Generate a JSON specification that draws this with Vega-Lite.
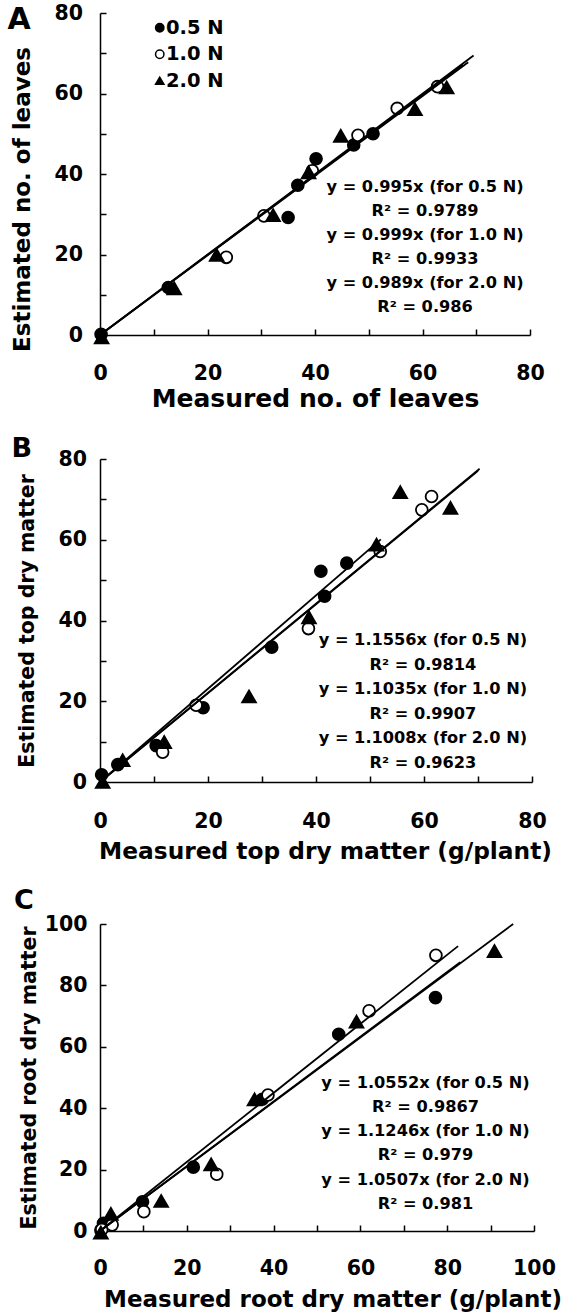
{
  "$schema": "https://vega.github.io/schema/vega-lite/v6.json",
  "padding": {"left": 7, "top": 3, "right": 5, "bottom": 5},
  "background": "white",
  "spacing": 23,
  "datasets": {
    "ptsA": [
      {"N": "0.5 N", "measured": 0.2, "estimated": 0.2},
      {"N": "0.5 N", "measured": 12.7, "estimated": 11.8},
      {"N": "0.5 N", "measured": 35.0, "estimated": 29.2},
      {"N": "0.5 N", "measured": 36.8, "estimated": 37.2},
      {"N": "0.5 N", "measured": 40.2, "estimated": 43.8},
      {"N": "0.5 N", "measured": 47.2, "estimated": 47.2},
      {"N": "0.5 N", "measured": 50.8, "estimated": 50.0},
      {"N": "1.0 N", "measured": 23.5, "estimated": 19.3},
      {"N": "1.0 N", "measured": 30.5, "estimated": 29.6},
      {"N": "1.0 N", "measured": 39.5, "estimated": 40.8},
      {"N": "1.0 N", "measured": 48.0, "estimated": 49.6},
      {"N": "1.0 N", "measured": 55.3, "estimated": 56.3},
      {"N": "1.0 N", "measured": 62.8, "estimated": 61.7},
      {"N": "2.0 N", "measured": 0.3, "estimated": -0.6},
      {"N": "2.0 N", "measured": 13.8, "estimated": 11.6},
      {"N": "2.0 N", "measured": 21.7, "estimated": 19.9},
      {"N": "2.0 N", "measured": 32.2, "estimated": 29.8},
      {"N": "2.0 N", "measured": 38.8, "estimated": 40.4},
      {"N": "2.0 N", "measured": 44.8, "estimated": 49.5},
      {"N": "2.0 N", "measured": 58.6, "estimated": 56.1},
      {"N": "2.0 N", "measured": 64.5, "estimated": 61.5}
    ],
    "linesA": [
      {"N": "0.5 N", "measured": 0, "estimated": 0},
      {"N": "0.5 N", "measured": 67.5, "estimated": 67.16},
      {"N": "1.0 N", "measured": 0, "estimated": 0},
      {"N": "1.0 N", "measured": 69.5, "estimated": 69.43},
      {"N": "2.0 N", "measured": 0, "estimated": 0},
      {"N": "2.0 N", "measured": 68.5, "estimated": 67.75}
    ],
    "ptsB": [
      {"N": "0.5 N", "measured": 0.3, "estimated": 1.8},
      {"N": "0.5 N", "measured": 3.3, "estimated": 4.3},
      {"N": "0.5 N", "measured": 10.4, "estimated": 9.0},
      {"N": "0.5 N", "measured": 19.1, "estimated": 18.4},
      {"N": "0.5 N", "measured": 31.8, "estimated": 33.4},
      {"N": "0.5 N", "measured": 40.9, "estimated": 52.2},
      {"N": "0.5 N", "measured": 41.6, "estimated": 46.0},
      {"N": "0.5 N", "measured": 45.7, "estimated": 54.2},
      {"N": "1.0 N", "measured": 11.6, "estimated": 7.4},
      {"N": "1.0 N", "measured": 17.8, "estimated": 19.0},
      {"N": "1.0 N", "measured": 38.6, "estimated": 38.0},
      {"N": "1.0 N", "measured": 51.9, "estimated": 57.1},
      {"N": "1.0 N", "measured": 59.6, "estimated": 67.4},
      {"N": "1.0 N", "measured": 61.4, "estimated": 70.7},
      {"N": "2.0 N", "measured": 0.5, "estimated": 0.0},
      {"N": "2.0 N", "measured": 4.2, "estimated": 5.4},
      {"N": "2.0 N", "measured": 11.9, "estimated": 9.9},
      {"N": "2.0 N", "measured": 27.6, "estimated": 21.2},
      {"N": "2.0 N", "measured": 38.7, "estimated": 40.8},
      {"N": "2.0 N", "measured": 51.2, "estimated": 58.8},
      {"N": "2.0 N", "measured": 55.6, "estimated": 71.8},
      {"N": "2.0 N", "measured": 64.9, "estimated": 67.9}
    ],
    "linesB": [
      {"N": "0.5 N", "measured": 0, "estimated": 0},
      {"N": "0.5 N", "measured": 52, "estimated": 60.09},
      {"N": "1.0 N", "measured": 0, "estimated": 0},
      {"N": "1.0 N", "measured": 70.3, "estimated": 77.58},
      {"N": "2.0 N", "measured": 0, "estimated": 0},
      {"N": "2.0 N", "measured": 70, "estimated": 77.06}
    ],
    "ptsC": [
      {"N": "0.5 N", "measured": 0.2, "estimated": 0.3},
      {"N": "0.5 N", "measured": 0.8, "estimated": 2.5},
      {"N": "0.5 N", "measured": 9.8, "estimated": 9.5},
      {"N": "0.5 N", "measured": 21.5, "estimated": 20.8},
      {"N": "0.5 N", "measured": 37.4, "estimated": 42.9},
      {"N": "0.5 N", "measured": 55.0, "estimated": 64.1},
      {"N": "0.5 N", "measured": 77.3, "estimated": 76.0},
      {"N": "1.0 N", "measured": 0.4, "estimated": 0.5},
      {"N": "1.0 N", "measured": 2.8, "estimated": 2.0},
      {"N": "1.0 N", "measured": 10.1, "estimated": 6.3},
      {"N": "1.0 N", "measured": 26.9, "estimated": 18.5},
      {"N": "1.0 N", "measured": 38.7, "estimated": 44.3},
      {"N": "1.0 N", "measured": 62.0, "estimated": 71.7},
      {"N": "1.0 N", "measured": 77.4, "estimated": 89.8},
      {"N": "2.0 N", "measured": 0.2, "estimated": -0.5},
      {"N": "2.0 N", "measured": 2.5, "estimated": 5.6},
      {"N": "2.0 N", "measured": 14.1, "estimated": 9.8},
      {"N": "2.0 N", "measured": 25.6, "estimated": 21.7},
      {"N": "2.0 N", "measured": 35.6, "estimated": 42.9},
      {"N": "2.0 N", "measured": 59.1, "estimated": 68.2},
      {"N": "2.0 N", "measured": 90.9, "estimated": 91.2}
    ],
    "linesC": [
      {"N": "0.5 N", "measured": 0, "estimated": 0},
      {"N": "0.5 N", "measured": 83, "estimated": 87.58},
      {"N": "1.0 N", "measured": 0, "estimated": 0},
      {"N": "1.0 N", "measured": 82.5, "estimated": 92.78},
      {"N": "2.0 N", "measured": 0, "estimated": 0},
      {"N": "2.0 N", "measured": 95.2, "estimated": 100.03}
    ]
  },
  "vconcat": [
    {
      "width": 430,
      "height": 322,
      "layer": [
        {
          "data": {"name": "ptsA"},
          "transform": [{"filter": "datum.N !== '2.0 N'"}],
          "mark": {"type": "point", "filled": true, "opacity": 1, "stroke": "black", "strokeWidth": 1.8, "size": 140},
          "encoding": {
            "x": {"field": "measured", "type": "quantitative", "title": "Measured no. of leaves",
              "scale": {"domain": [0, 80], "nice": false, "zero": false},
              "axis": {"values": [0, 10, 20, 30, 40, 50, 60, 70, 80], "labelExpr": "datum.value % 20 ? '' : datum.label", "labelPadding": 34, "titlePadding": 2.5, "titleFontSize": 25}},
            "y": {"field": "estimated", "type": "quantitative", "title": "Estimated no. of leaves",
              "scale": {"domain": [0, 80], "nice": false, "zero": false},
              "axis": {"values": [0, 10, 20, 30, 40, 50, 60, 70, 80], "labelExpr": "datum.value % 20 ? '' : datum.label", "labelPadding": 23.5, "titlePadding": 19.5, "titleFontSize": 23, "titleY": 186}},
            "shape": {"field": "N", "type": "nominal",
              "scale": {"domain": ["0.5 N", "1.0 N", "2.0 N"], "range": ["circle", "circle", "triangle-up"]},
              "legend": {"orient": "none", "legendX": 50, "legendY": 5, "title": null, "padding": 0, "labelFontSize": 19.5, "labelFont": "DejaVu Sans", "labelFontWeight": "bold", "labelColor": "black", "labelOffset": -3.5, "rowPadding": 5.5, "symbolSize": 70, "symbolStrokeWidth": 1.5}},
            "fill": {"field": "N", "type": "nominal",
              "scale": {"domain": ["0.5 N", "1.0 N", "2.0 N"], "range": ["black", "white", "black"]},
              "legend": {"orient": "none", "legendX": 50, "legendY": 5, "title": null, "padding": 0, "labelFontSize": 19.5, "labelFont": "DejaVu Sans", "labelFontWeight": "bold", "labelColor": "black", "labelOffset": -3.5, "rowPadding": 5.5, "symbolSize": 70, "symbolStrokeWidth": 1.5}}
          }
        },
        {
          "data": {"name": "ptsA"},
          "transform": [{"filter": "datum.N === '2.0 N'"}],
          "mark": {"type": "point", "filled": true, "opacity": 1, "stroke": "black", "strokeWidth": 1.8, "size": 190},
          "encoding": {
            "x": {"field": "measured", "type": "quantitative", "title": "Measured no. of leaves"},
            "y": {"field": "estimated", "type": "quantitative", "title": "Estimated no. of leaves"},
            "shape": {"field": "N", "type": "nominal"},
            "fill": {"field": "N", "type": "nominal"}
          }
        },
        {
          "data": {"name": "linesA"},
          "mark": {"type": "line", "color": "black", "strokeWidth": 1.8},
          "encoding": {
            "x": {"field": "measured", "type": "quantitative", "title": "Measured no. of leaves"},
            "y": {"field": "estimated", "type": "quantitative", "title": "Estimated no. of leaves"},
            "detail": {"field": "N", "type": "nominal"}
          }
        },
        {
          "data": {"values": [{}]},
          "mark": {"type": "text", "align": "center", "baseline": "middle", "font": "DejaVu Sans", "fontSize": 16.2, "fontWeight": "bold", "lineHeight": 24, "color": "black",
            "text": ["y = 0.995x (for 0.5 N)", "R² = 0.9789", "y = 0.999x (for 1.0 N)", "R² = 0.9933", "y = 0.989x (for 2.0 N)", "R² = 0.986"]},
          "encoding": {
            "x": {"datum": 60.47, "type": "quantitative"},
            "y": {"datum": 36.7, "type": "quantitative"}
          }
        },
        {
          "data": {"values": [{}]},
          "mark": {"type": "text", "align": "center", "baseline": "middle", "font": "DejaVu Sans", "fontSize": 30, "fontWeight": "bold", "color": "black", "text": "A"},
          "encoding": {
            "x": {"datum": -15.05, "type": "quantitative"},
            "y": {"datum": 78.2, "type": "quantitative"}
          }
        }
      ]
    },
    {
      "width": 432,
      "height": 323,
      "layer": [
        {
          "data": {"name": "ptsB"},
          "transform": [{"filter": "datum.N !== '2.0 N'"}],
          "mark": {"type": "point", "filled": true, "opacity": 1, "stroke": "black", "strokeWidth": 1.8, "size": 140},
          "encoding": {
            "x": {"field": "measured", "type": "quantitative", "title": "Measured top dry matter (g/plant)",
              "scale": {"domain": [0, 80], "nice": false, "zero": false},
              "axis": {"values": [0, 10, 20, 30, 40, 50, 60, 70, 80], "labelExpr": "datum.value % 20 ? '' : datum.label", "labelPadding": 35, "titlePadding": 9, "titleFontSize": 23.3, "titleX": 225}},
            "y": {"field": "estimated", "type": "quantitative", "title": "Estimated top dry matter",
              "scale": {"domain": [0, 80], "nice": false, "zero": false},
              "axis": {"values": [0, 10, 20, 30, 40, 50, 60, 70, 80], "labelExpr": "datum.value % 20 ? '' : datum.label", "labelPadding": 19.5, "titlePadding": 20.75, "titleFontSize": 20.5}},
            "shape": {"field": "N", "type": "nominal",
              "scale": {"domain": ["0.5 N", "1.0 N", "2.0 N"], "range": ["circle", "circle", "triangle-up"]}, "legend": null},
            "fill": {"field": "N", "type": "nominal",
              "scale": {"domain": ["0.5 N", "1.0 N", "2.0 N"], "range": ["black", "white", "black"]}, "legend": null}
          }
        },
        {
          "data": {"name": "ptsB"},
          "transform": [{"filter": "datum.N === '2.0 N'"}],
          "mark": {"type": "point", "filled": true, "opacity": 1, "stroke": "black", "strokeWidth": 1.8, "size": 190},
          "encoding": {
            "x": {"field": "measured", "type": "quantitative", "title": "Measured top dry matter (g/plant)"},
            "y": {"field": "estimated", "type": "quantitative", "title": "Estimated top dry matter"},
            "shape": {"field": "N", "type": "nominal", "legend": null},
            "fill": {"field": "N", "type": "nominal", "legend": null}
          }
        },
        {
          "data": {"name": "linesB"},
          "mark": {"type": "line", "color": "black", "strokeWidth": 1.8},
          "encoding": {
            "x": {"field": "measured", "type": "quantitative", "title": "Measured top dry matter (g/plant)"},
            "y": {"field": "estimated", "type": "quantitative", "title": "Estimated top dry matter"},
            "detail": {"field": "N", "type": "nominal"}
          }
        },
        {
          "data": {"values": [{}]},
          "mark": {"type": "text", "align": "center", "baseline": "middle", "font": "DejaVu Sans", "fontSize": 16.2, "fontWeight": "bold", "lineHeight": 24.5, "color": "black",
            "text": ["y = 1.1556x (for 0.5 N)", "R² = 0.9814", "y = 1.1035x (for 1.0 N)", "R² = 0.9907", "y = 1.1008x (for 2.0 N)", "R² = 0.9623"]},
          "encoding": {
            "x": {"datum": 59.8, "type": "quantitative"},
            "y": {"datum": 35.1, "type": "quantitative"}
          }
        },
        {
          "data": {"values": [{}]},
          "mark": {"type": "text", "align": "center", "baseline": "middle", "font": "DejaVu Sans", "fontSize": 27, "fontWeight": "bold", "color": "black", "text": "B"},
          "encoding": {
            "x": {"datum": -14.48, "type": "quantitative"},
            "y": {"datum": 82.6, "type": "quantitative"}
          }
        }
      ]
    },
    {
      "width": 434,
      "height": 307,
      "layer": [
        {
          "data": {"name": "ptsC"},
          "transform": [{"filter": "datum.N !== '2.0 N'"}],
          "mark": {"type": "point", "filled": true, "opacity": 1, "stroke": "black", "strokeWidth": 1.8, "size": 140},
          "encoding": {
            "x": {"field": "measured", "type": "quantitative", "title": "Measured root dry matter (g/plant)",
              "scale": {"domain": [0, 100], "nice": false, "zero": false},
              "axis": {"values": [0, 10, 20, 30, 40, 50, 60, 70, 80, 90, 100], "labelExpr": "datum.value % 20 ? '' : datum.label", "labelPadding": 33, "titlePadding": 9.6, "titleFontSize": 23, "titleX": 232.5}},
            "y": {"field": "estimated", "type": "quantitative", "title": "Estimated root dry matter",
              "scale": {"domain": [0, 100], "nice": false, "zero": false},
              "axis": {"values": [0, 10, 20, 30, 40, 50, 60, 70, 80, 90, 100], "labelExpr": "datum.value % 20 ? '' : datum.label", "labelPadding": 19, "titlePadding": 4.5, "titleFontSize": 20.5}},
            "shape": {"field": "N", "type": "nominal",
              "scale": {"domain": ["0.5 N", "1.0 N", "2.0 N"], "range": ["circle", "circle", "triangle-up"]}, "legend": null},
            "fill": {"field": "N", "type": "nominal",
              "scale": {"domain": ["0.5 N", "1.0 N", "2.0 N"], "range": ["black", "white", "black"]}, "legend": null}
          }
        },
        {
          "data": {"name": "ptsC"},
          "transform": [{"filter": "datum.N === '2.0 N'"}],
          "mark": {"type": "point", "filled": true, "opacity": 1, "stroke": "black", "strokeWidth": 1.8, "size": 190},
          "encoding": {
            "x": {"field": "measured", "type": "quantitative", "title": "Measured root dry matter (g/plant)"},
            "y": {"field": "estimated", "type": "quantitative", "title": "Estimated root dry matter"},
            "shape": {"field": "N", "type": "nominal", "legend": null},
            "fill": {"field": "N", "type": "nominal", "legend": null}
          }
        },
        {
          "data": {"name": "linesC"},
          "mark": {"type": "line", "color": "black", "strokeWidth": 1.8},
          "encoding": {
            "x": {"field": "measured", "type": "quantitative", "title": "Measured root dry matter (g/plant)"},
            "y": {"field": "estimated", "type": "quantitative", "title": "Estimated root dry matter"},
            "detail": {"field": "N", "type": "nominal"}
          }
        },
        {
          "data": {"values": [{}]},
          "mark": {"type": "text", "align": "center", "baseline": "middle", "font": "DejaVu Sans", "fontSize": 16.2, "fontWeight": "bold", "lineHeight": 24.2, "color": "black",
            "text": ["y = 1.0552x (for 0.5 N)", "R² = 0.9867", "y = 1.1246x (for 1.0 N)", "R² = 0.979", "y = 1.0507x (for 2.0 N)", "R² = 0.981"]},
          "encoding": {
            "x": {"datum": 75.0, "type": "quantitative"},
            "y": {"datum": 48.3, "type": "quantitative"}
          }
        },
        {
          "data": {"values": [{}]},
          "mark": {"type": "text", "align": "center", "baseline": "middle", "font": "DejaVu Sans", "fontSize": 27, "fontWeight": "bold", "color": "black", "text": "C"},
          "encoding": {
            "x": {"datum": -17.53, "type": "quantitative"},
            "y": {"datum": 107.5, "type": "quantitative"}
          }
        }
      ]
    }
  ],
  "resolve": {
    "scale": {"x": "independent", "y": "independent", "shape": "independent", "fill": "independent"}
  },
  "config": {
    "font": "DejaVu Sans",
    "view": {"stroke": null},
    "axis": {
      "labelFont": "DejaVu Sans", "titleFont": "DejaVu Sans",
      "labelFontWeight": "bold", "titleFontWeight": "bold",
      "labelColor": "black", "titleColor": "black",
      "domainColor": "black", "tickColor": "black",
      "domainWidth": 1.5, "tickWidth": 1.5, "tickSize": -6,
      "grid": false, "labelOverlap": false, "labelFlush": false, "labelBound": false,
      "labelFontSize": 20.5
    }
  }
}
